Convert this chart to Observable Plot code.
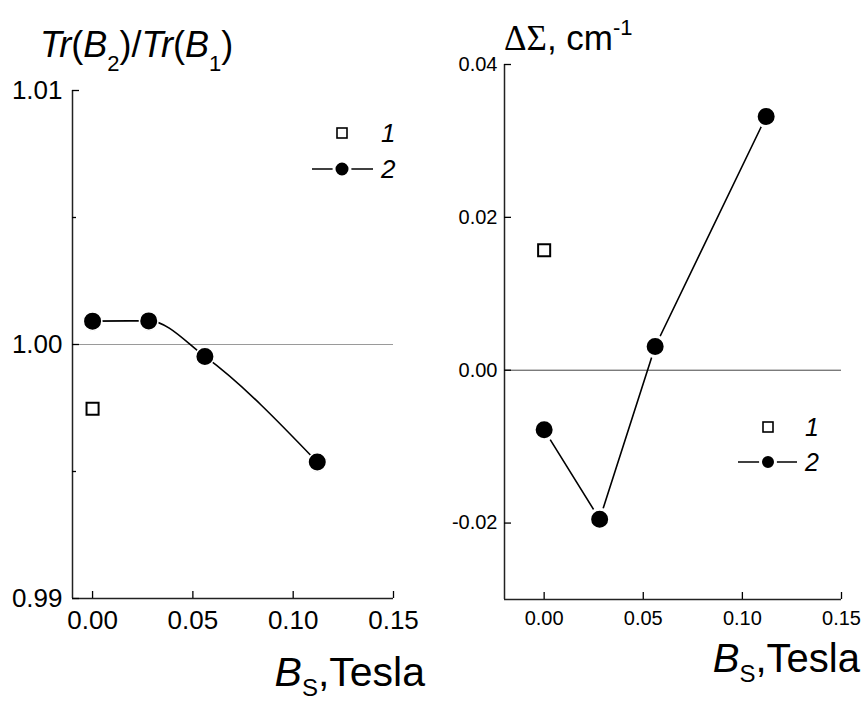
<!DOCTYPE html>
<html><head><meta charset="utf-8">
<script src="https://cdn.jsdelivr.net/npm/d3@7"></script>
<script src="https://cdn.jsdelivr.net/npm/@observablehq/plot@0.6"></script>
<style>
body{margin:0;background:#fff}
#wrap{position:relative;width:865px;height:702px;overflow:hidden;font-family:"Liberation Sans",Arial,sans-serif}
#wrap svg{position:absolute;top:0}
#wrap svg.leftp g[aria-label$="tick label"]{font-size:26px !important}
#wrap svg.rightp g[aria-label$="tick label"]{font-size:20px !important}
</style>
</head><body><div id="wrap"></div>
<script>
// ---- data ----
const xTicks = [0.00, 0.05, 0.10, 0.15];
const leftYTicks = [0.99, 1.00, 1.01];
const leftYMinor = [0.995, 1.005];
const rightYTicks = [-0.02, 0.00, 0.02, 0.04];
const fieldB = [0, 0.028, 0.056, 0.112];            // B_S, Tesla (series 2)
const ratio2 = [1.00092, 1.00093, 0.99953, 0.99537]; // Tr(B2)/Tr(B1), series 2
const field1 = [0];                                   // series 1
const ratio1 = [0.99747];
const dSigma2 = [-0.0078, -0.0195, 0.0031, 0.0332];  // ΔΣ, series 2
const dSigma1 = [0.0157];

const FONT = '"Liberation Sans", Arial, sans-serif';
const fmt = d => d.toFixed(2);
const wrap = document.getElementById("wrap");
const s2L = fieldB.map((x, i) => ({x, y: ratio2[i]}));
const s1L = field1.map((x, i) => ({x, y: ratio1[i]}));
const s2R = fieldB.map((x, i) => ({x, y: dSigma2[i]}));
const s1R = field1.map((x, i) => ({x, y: dSigma1[i]}));

const left = Plot.plot({
  width: 432, height: 702,
  marginLeft: 72, marginRight: 39, marginTop: 90, marginBottom: 104,
  x: {domain: [-0.01, 0.15]},
  y: {domain: [0.99, 1.01]},
  className: "leftp",
  style: {fontFamily: FONT, fontSize: "26px", background: "transparent", color: "#000", overflow: "visible"},
  marks: [
    Plot.ruleY([1.0], {stroke: "#9a9a9a", strokeWidth: 1}),
    Plot.ruleX([-0.01], {stroke: "#222", strokeWidth: 1.5}),
    Plot.ruleY([0.99], {stroke: "#222", strokeWidth: 1.5}),
    Plot.axisY({ticks: leftYTicks, tickSize: -7, tickPadding: 17, tickFormat: fmt, label: null, strokeWidth: 1.3}),
    Plot.axisY({ticks: leftYMinor, tickSize: -4, tickFormat: () => "", label: null, strokeWidth: 1.3}),
    Plot.axisX({ticks: xTicks, tickSize: -7, tickPadding: 19, tickFormat: fmt, label: null, strokeWidth: 1.3}),
    Plot.line(s2L, {x: "x", y: "y", curve: "monotone-x", stroke: "#000", strokeWidth: 1.6}),
    Plot.dot(s2L, {x: "x", y: "y", r: 9.3, fill: "#000", stroke: "#fff", strokeWidth: 1.6}),
    Plot.dot(s1L, {x: "x", y: "y", symbol: "square", r: 6.8, fill: "#fff", stroke: "#000", strokeWidth: 2})
  ]
});
left.classList.add("leftp");
left.style.left = "0px";
wrap.appendChild(left);

const right = Plot.plot({
  width: 433, height: 702,
  marginLeft: 72, marginRight: 24, marginTop: 64, marginBottom: 103,
  x: {domain: [-0.02, 0.15]},
  y: {domain: [-0.03, 0.04]},
  className: "rightp",
  style: {fontFamily: FONT, fontSize: "20px", background: "transparent", color: "#000", overflow: "visible"},
  marks: [
    Plot.ruleY([0], {stroke: "#444", strokeWidth: 1}),
    Plot.ruleX([-0.02], {stroke: "#222", strokeWidth: 1.5}),
    Plot.ruleY([-0.03], {stroke: "#222", strokeWidth: 1.5}),
    Plot.axisY({ticks: rightYTicks, tickSize: -7, tickPadding: 14, tickFormat: fmt, label: null, strokeWidth: 1.3}),
    Plot.axisX({ticks: xTicks, tickSize: -7, tickPadding: 18, tickFormat: fmt, label: null, strokeWidth: 1.3}),
    Plot.line(s2R, {x: "x", y: "y", stroke: "#000", strokeWidth: 1.6}),
    Plot.dot(s2R, {x: "x", y: "y", r: 10, fill: "#000", stroke: "#fff", strokeWidth: 3}),
    Plot.dot(s1R, {x: "x", y: "y", symbol: "square", r: 6.8, fill: "#fff", stroke: "#000", strokeWidth: 2})
  ]
});
right.classList.add("rightp");
right.style.left = "432px";
wrap.appendChild(right);

// ---- overlay: titles, axis labels, legends ----
const ov = d3.select(wrap).append("svg")
  .attr("width", 865).attr("height", 702)
  .style("left", "0px")
  .attr("font-family", FONT);

function rich(x, y, size, parts, anchor) {
  const t = ov.append("text").attr("x", x).attr("y", y).attr("font-size", size)
    .attr("text-anchor", anchor || "start").attr("fill", "#000");
  parts.forEach(p => {
    const ts = t.append("tspan").text(p.t);
    if (p.i) ts.attr("font-style", "italic");
    if (p.s) ts.attr("font-size", p.s);
    if (p.dy) ts.attr("dy", p.dy);
    if (p.f) ts.attr("font-family", p.f);
  });
  return t;
}

// left title
rich(40, 57, 36, [
  {t: "Tr", i: 1}, {t: "("}, {t: "B", i: 1}, {t: "2", s: 22, dy: 14}, {t: ")", dy: -14},
  {t: "/"}, {t: "Tr", i: 1}, {t: "("}, {t: "B", i: 1}, {t: "1", s: 22, dy: 14}, {t: ")", dy: -14}
]);
// right title
rich(504, 50, 35, [
  {t: "ΔΣ", f: '"Liberation Serif", "Times New Roman", serif'}, {t: ", cm"},
  {t: "-1", s: 22, dy: -15}
]);
// x labels
rich(425, 686, 41, [{t: "B", i: 1}, {t: "S", s: 24, dy: 10}, {t: ",Tesla", dy: -10}], "end");
rich(860, 672, 40, [{t: "B", i: 1}, {t: "S", s: 24, dy: 10}, {t: ",Tesla", dy: -10}], "end");

// legends
function legend(cx, ySq, yLn, x0, x1, xText, sqSide, dotR, size) {
  ov.append("rect").attr("x", cx - sqSide / 2).attr("y", ySq - sqSide / 2)
    .attr("width", sqSide).attr("height", sqSide).attr("fill", "#fff").attr("stroke", "#000").attr("stroke-width", 1.6);
  ov.append("line").attr("x1", x0).attr("x2", x1).attr("y1", yLn).attr("y2", yLn)
    .attr("stroke", "#000").attr("stroke-width", 1.6);
  ov.append("circle").attr("cx", cx).attr("cy", yLn).attr("r", dotR + 1.5)
    .attr("fill", "#000").attr("stroke", "#fff").attr("stroke-width", 3);
  rich(xText, ySq + 9, size, [{t: "1", i: 1}]);
  rich(xText, yLn + 9, size, [{t: "2", i: 1}]);
}
legend(342, 133, 169, 312, 373, 381, 10, 6.5, 26);
legend(768, 427, 462, 738, 797, 805, 10, 6, 25);
</script>
</body></html>
